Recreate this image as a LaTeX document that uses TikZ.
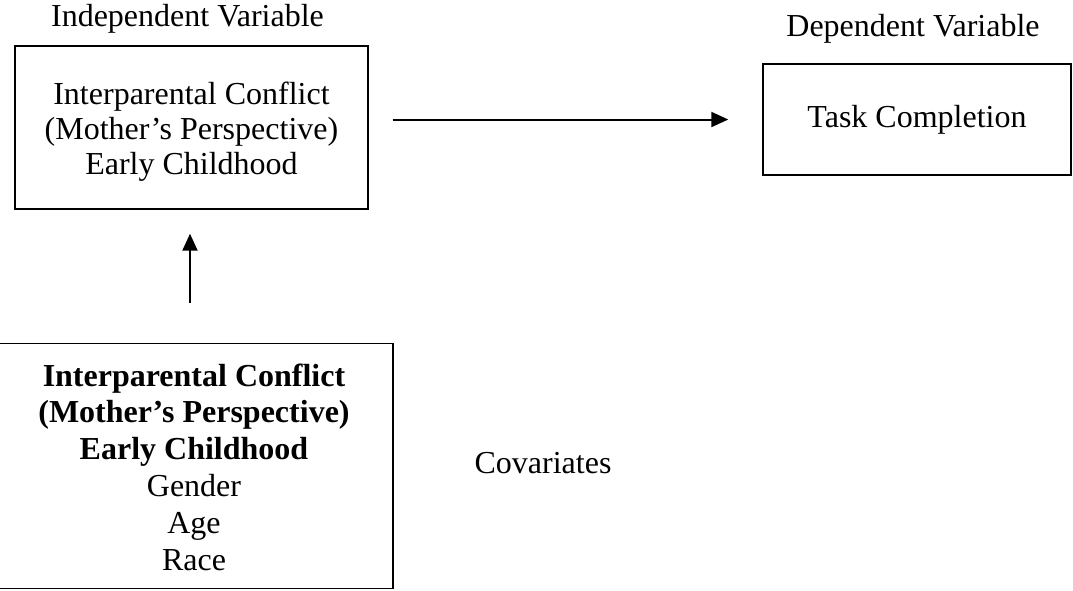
\documentclass[tikz,border=0pt]{standalone}
\usepackage{fontspec}
\setmainfont{Liberation Serif}
\usetikzlibrary{arrows.meta}
\begin{document}
\begin{tikzpicture}[x=1pt,y=-1pt,
  txt/.style={font=\fontsize{32}{35}\selectfont, align=center, inner sep=0pt},
  tall/.style={font=\fontsize{32}{36.8}\selectfont},
  varbox/.style={draw, line width=1.4pt, inner sep=0pt, minimum width=#1},
  arr/.style={line width=2pt, -{Triangle[length=17pt,width=15pt]}}]
  \useasboundingbox (0,0) rectangle (1073,590);

  % headings
  \node[txt] (ivlab) at (187.5,19) {Independent Variable};
  \node[txt] (dvlab) at (913,29) {Dependent Variable};

  % independent variable box
  \node[varbox=353pt, minimum height=163pt] (iv) at (191.5,127.5) {};
  \node[txt] (ivtext) at (191.5,131.5)
    {Interparental Conflict\\(Mother’s Perspective)\\Early Childhood};

  % dependent variable box
  \node[varbox=308pt, minimum height=111pt] (dv) at (917,119.5) {};
  \node[txt] (dvtext) at (917,119.5) {Task Completion};

  % covariates box (left side runs off the page)
  \node[varbox=398pt, minimum height=245.5pt] (cov) at (194,466) {};
  \node[txt, tall] (covtext) at (194,467)
    {\textbf{Interparental Conflict}\\\textbf{(Mother’s Perspective)}\\\textbf{Early Childhood}\\Gender\\Age\\Race};

  \node[txt] (covlab) at (543,463) {Covariates};

  % connectors
  \draw[arr, shorten <=24pt, shorten >=34pt] (iv.east |- dv.west) -- (dv.west);
  \draw[arr, shorten <=40pt, shorten >=24pt]
    ([xshift=-4pt]cov.north) -- ([xshift=-4pt]cov.north |- iv.south);
\end{tikzpicture}
\end{document}
